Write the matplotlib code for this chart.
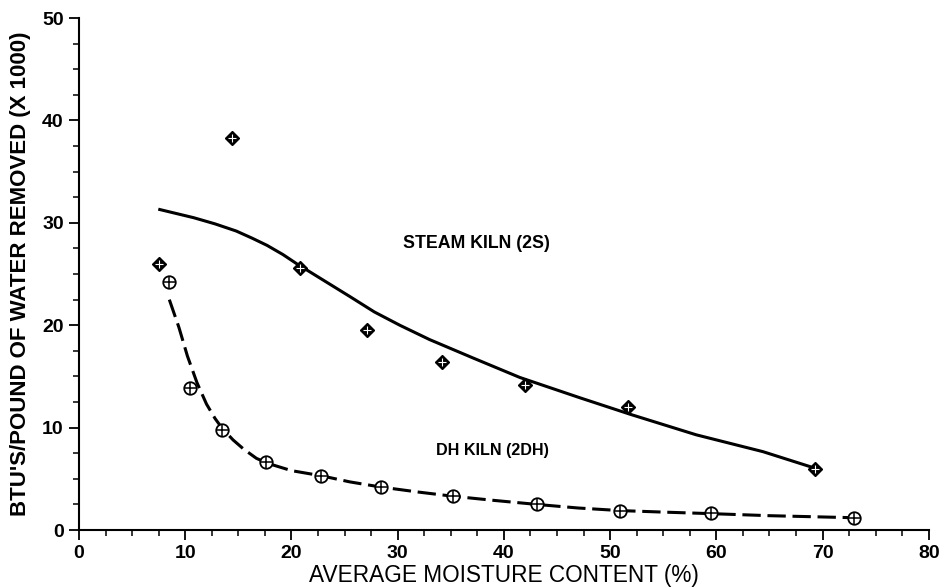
import numpy as np
import matplotlib
matplotlib.use('Agg')
import matplotlib.pyplot as plt
from matplotlib.ticker import MultipleLocator

# measured points
steam_x = [7.5, 14.4, 20.8, 27.1, 34.2, 42.0, 51.7, 69.3]
steam_y = [26.0, 38.3, 25.6, 19.5, 16.4, 14.2, 12.0, 6.0]

dh_x = [8.5, 10.4, 13.5, 17.6, 22.8, 28.4, 35.2, 43.1, 50.9, 59.5, 73.0]
dh_y = [24.2, 13.9, 9.8, 6.6, 5.3, 4.2, 3.3, 2.5, 1.9, 1.7, 1.2]

# fitted curves
steam_fit_x = [7.6, 10.8, 12.8, 14.8, 16.3, 17.7, 19.2, 20.5, 23.0, 25.5, 27.8, 30.2, 33.0, 37.1,
               41.5, 47.2, 51.9, 58.1, 64.4, 68.8]
steam_fit_y = [31.3, 30.5, 29.9, 29.2, 28.5, 27.8, 26.9, 26.0, 24.4, 22.8, 21.3, 20.0, 18.6, 16.8,
               14.9, 12.9, 11.3, 9.3, 7.65, 6.2]

dh_fit_x = [8.5, 9.4, 10.2, 11.1, 12.0, 12.8, 13.5, 14.5, 15.5, 16.7, 17.8, 20.0, 22.8, 25.5, 28.4,
            32.0, 35.2, 39.0, 43.1, 47.0, 50.9, 55.0, 59.5, 65.0, 73.0]
dh_fit_y = [22.5, 19.8, 17.0, 14.4, 12.3, 10.9, 9.9, 8.8, 7.9, 7.0, 6.5, 5.8, 5.3, 4.7, 4.2,
            3.7, 3.3, 2.9, 2.5, 2.15, 1.9, 1.75, 1.6, 1.4, 1.2]

plt.rcParams['font.family'] = ['Liberation Sans', 'DejaVu Sans']

fig = plt.figure(figsize=(9.41, 5.88), dpi=100)
ax = fig.add_axes((0.084, 0.0986, 0.903, 0.8707))

ax.plot(steam_fit_x, steam_fit_y, c='k', lw=2.2, solid_joinstyle='round')
ax.plot(dh_fit_x, dh_fit_y, c='k', lw=2.2, ls=(0, (6, 2.2)))

ax.plot(steam_x, steam_y, ls='none', marker='D', ms=7, mfc='k', mec='k', zorder=3)
ax.plot(steam_x, steam_y, ls='none', marker='+', ms=5.5, mew=0.8, mec='w', zorder=4)
ax.plot(dh_x, dh_y, ls='none', marker='o', ms=9, mfc='w', mec='k', mew=1.3, zorder=3)
ax.plot(dh_x, dh_y, ls='none', marker='+', ms=9, mew=1.1, mec='k', zorder=4)

ax.text(30.5, 28.0, 'STEAM KILN (2S)', fontsize=12.8, fontweight='bold', va='center')
ax.text(33.6, 7.8, 'DH KILN (2DH)', fontsize=11.6, fontweight='bold', va='center')

ax.set_xlim(0, 80)
ax.set_ylim(0, 50)
ax.xaxis.set_major_locator(MultipleLocator(10))
ax.xaxis.set_minor_locator(MultipleLocator(2.5))
ax.yaxis.set_major_locator(MultipleLocator(10))
ax.yaxis.set_minor_locator(MultipleLocator(2.5))
ax.tick_params(which='major', length=7, width=1.3, labelsize=14, pad=4)
ax.tick_params(which='minor', length=4, width=1.1)
for lab in ax.get_xticklabels() + ax.get_yticklabels():
    lab.set_fontweight('bold')

for s in ['top', 'right']:
    ax.spines[s].set_visible(False)
for s in ['left', 'bottom']:
    ax.spines[s].set_linewidth(1.5)

ax.set_xlabel('AVERAGE MOISTURE CONTENT (%)', fontsize=16.3, labelpad=1)
ax.set_ylabel("BTU'S/POUND OF WATER REMOVED (X 1000)", fontsize=16, fontweight='bold', labelpad=8)

fig.savefig('out.png', dpi=100)
